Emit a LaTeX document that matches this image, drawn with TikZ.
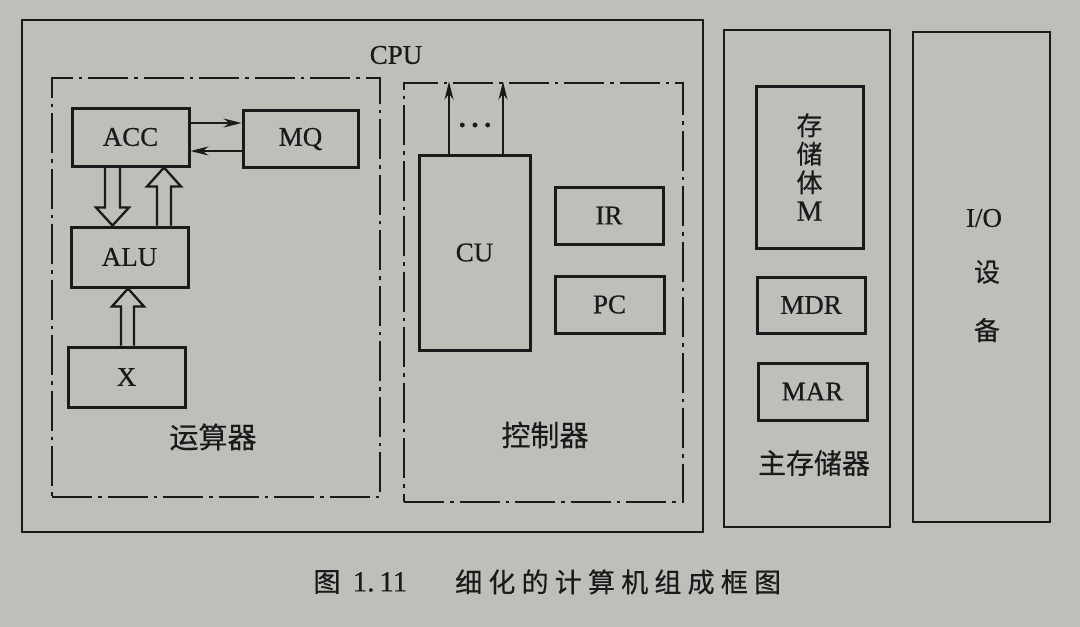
\documentclass[tikz,border=0pt]{standalone}
\usepackage{fontspec}
\setmainfont{Liberation Serif}[FakeBold=0.6]
\newfontfamily\cjk{Noto Sans CJK SC}[FakeBold=0.4]
\newfontfamily\cjkwide{Noto Sans CJK SC}[LetterSpace=23,FakeBold=0.4]
\usetikzlibrary{arrows.meta,calc}
\definecolor{paper}{HTML}{BCC0B8}
\definecolor{ink}{HTML}{1A1A1A}
\tikzset{
  frame/.style={draw=ink, line width=2.8pt, inner sep=0pt},
  dashframe/.style={draw=ink, line width=2.6pt, inner sep=0pt,
    dash pattern=on 40pt off 6pt on 3.5pt off 6pt},
  reg/.style={draw=ink, line width=3pt, inner sep=0pt, text=ink,
    font=\fontsize{27}{27}\selectfont},
  lbl/.style={text=ink, inner sep=0pt, font=\fontsize{27}{27}\selectfont},
  cjklbl/.style={text=ink, inner sep=0pt, font=\cjk\fontsize{26}{26}\selectfont},
  unitlbl/.style={text=ink, inner sep=0pt, font=\cjk\fontsize{29}{29}\selectfont},
  thinarrow/.style={draw=ink, line width=2pt, -{Stealth[length=18pt,width=9pt]}},
  hollow/.style={draw=ink, line width=2.3pt, line join=miter},
}
\begin{document}
\begin{tikzpicture}[x=1pt,y=-1pt]
  \fill[paper] (0,0) rectangle (1080,627);
  \useasboundingbox (0,0) rectangle (1080,627);

  % CPU frame and its two dash-dot units
  \node[frame, minimum width=681pt, minimum height=512pt] (cpu) at (362.5,276) {};
  \node[lbl] (cpulbl) at (396,55) {CPU};
  \node[dashframe, minimum width=328pt, minimum height=419pt] (aluunit) at (216,287.5) {};
  \node[dashframe, minimum width=279pt, minimum height=419pt] (cuunit) at (543.5,292.5) {};

  % arithmetic unit
  \node[reg, minimum width=117pt, minimum height=58pt] (acc) at (130.5,137) {ACC};
  \node[reg, minimum width=115pt, minimum height=57pt] (mq) at (300.5,139) {MQ};
  \node[reg, minimum width=117pt, minimum height=60pt] (alu) at (129.5,257) {ALU};
  \node[reg, minimum width=117pt, minimum height=60pt] (xreg) at (126.5,377) {X};
  \node[unitlbl] (aluname) at (213,437) {运算器};

  \draw[thinarrow] (acc.east |- 0,123) -- (mq.west |- 0,123);
  \draw[thinarrow] (mq.west |- 0,151) -- (acc.east |- 0,151);

  % ACC -> ALU
  \draw[hollow] let \p1=(acc.south), \p2=(alu.north) in
    (105pt,\y1) -- (105pt,\y2+18pt) -- (96pt,\y2+18pt) -- (112.5pt,\y2)
    -- (129pt,\y2+18pt) -- (120pt,\y2+18pt) -- (120pt,\y1);
  % ALU -> ACC
  \draw[hollow] let \p1=(acc.south), \p2=(alu.north) in
    (157pt,\y2) -- (157pt,\y1-19pt) -- (147pt,\y1-19pt) -- (164pt,\y1)
    -- (181pt,\y1-19pt) -- (171pt,\y1-19pt) -- (171pt,\y2);
  % X -> ALU
  \draw[hollow] let \p1=(alu.south), \p2=(xreg.north) in
    (121pt,\y2) -- (121pt,\y1-18pt) -- (112pt,\y1-18pt) -- (128pt,\y1)
    -- (144pt,\y1-18pt) -- (134pt,\y1-18pt) -- (134pt,\y2);

  % control unit
  \node[reg, minimum width=111pt, minimum height=195pt] (cu) at (474.5,252.5) {CU};
  \node[reg, minimum width=108pt, minimum height=57pt] (ir) at (609,215.5) {IR};
  \node[reg, minimum width=109pt, minimum height=57pt] (pc) at (609.5,304.5) {PC};
  \node[unitlbl] (cuname) at (545,435) {控制器};
  \node[lbl, font=\fontsize{38}{38}\selectfont] (dots) at (475,125) {…};
  \draw[thinarrow] (cu.north -| 449,0) -- (cuunit.north -| 449,0);
  \draw[thinarrow] (cu.north -| 503,0) -- (cuunit.north -| 503,0);

  % main memory
  \node[frame, minimum width=166pt, minimum height=497pt] (mem) at (807,278.5) {};
  \node[reg, minimum width=107pt, minimum height=162pt, align=center,
        font=\cjk\fontsize{26}{28.5}\selectfont] (store) at (809.5,167)
        {存\\储\\体\\{\rmfamily\fontsize{29}{28.5}\selectfont M}};
  \node[reg, minimum width=108pt, minimum height=56pt] (mdr) at (811,305) {MDR};
  \node[reg, minimum width=109pt, minimum height=57pt] (mar) at (812.5,391.5) {MAR};
  \node[cjklbl, font=\cjk\fontsize{28}{28}\selectfont] (memname) at (814,463) {主存储器};

  % I/O devices
  \node[frame, minimum width=137pt, minimum height=490pt] (io) at (981.5,277) {};
  \node[lbl] (iolbl) at (984,218) {I/O};
  \node[cjklbl] (iodev1) at (987,272) {设};
  \node[cjklbl] (iodev2) at (987,330) {备};

  % caption
  \node[cjklbl, font=\cjk\fontsize{27}{27}\selectfont] (capfig) at (327,582) {图};
  \node[lbl, font=\fontsize{29}{29}\selectfont] (capnum) at (380,582) {1.\,11};
  \node[cjklbl, font=\cjkwide\fontsize{27}{27}\selectfont, anchor=west] (captext) at (455,582) {细化的计算机组成框图};
\end{tikzpicture}
\end{document}
